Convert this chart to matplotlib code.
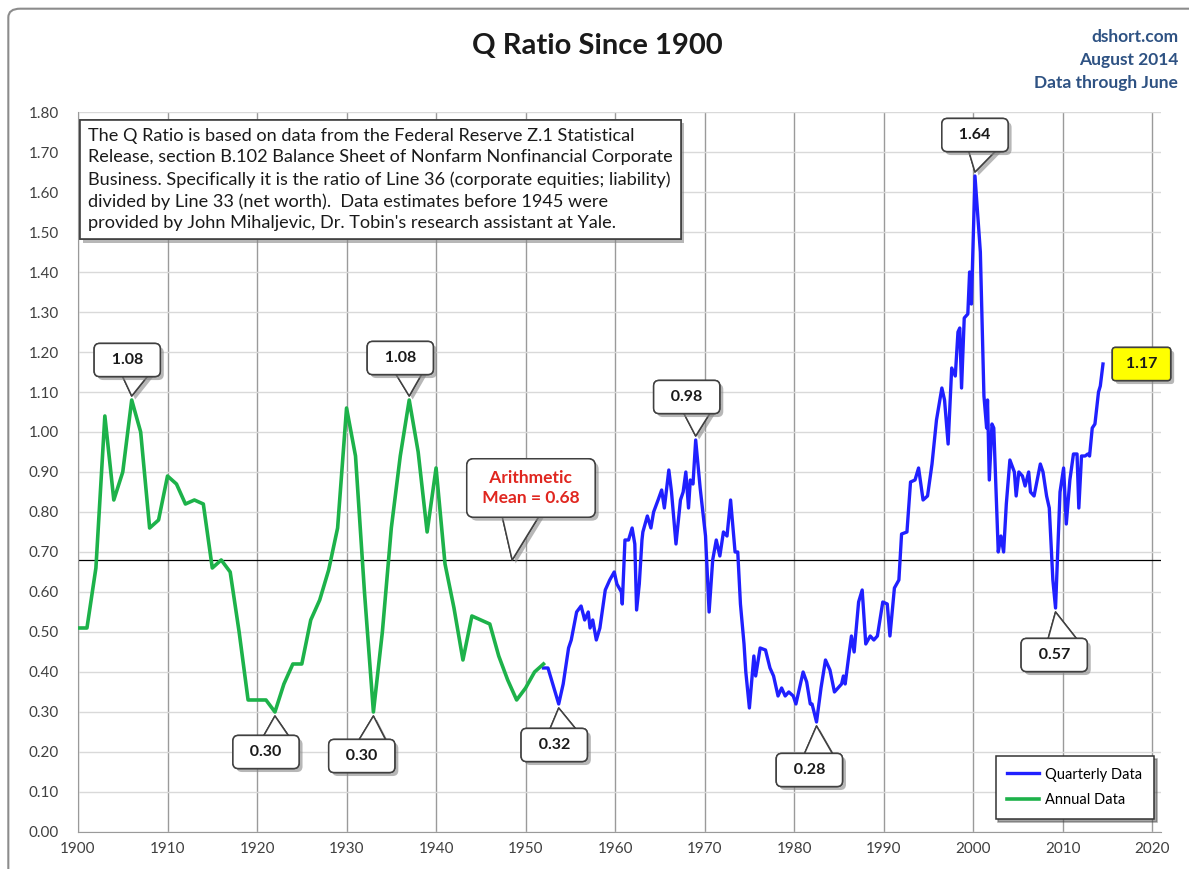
import matplotlib
matplotlib.use("Agg")
import matplotlib.pyplot as plt
import matplotlib.patheffects as pe
from matplotlib.patches import FancyBboxPatch

# Annual data (green), 1900-1952
annual_years = list(range(1900, 1953))
annual_q = [0.51, 0.51, 0.66, 1.04, 0.83, 0.90, 1.08, 1.00, 0.76, 0.78,
            0.89, 0.87, 0.82, 0.83, 0.82, 0.66, 0.68, 0.65, 0.50, 0.33,
            0.33, 0.33, 0.30, 0.37, 0.42, 0.42, 0.53, 0.58, 0.655, 0.76,
            1.06, 0.94, 0.60, 0.30, 0.50, 0.76, 0.94, 1.08, 0.95, 0.75,
            0.91, 0.67, 0.56, 0.43, 0.54, 0.53, 0.52, 0.44, 0.38, 0.33,
            0.36, 0.40, 0.42]

# Quarterly data (blue), 1952-2014
quarter_years = [
    1952.0, 1952.5, 1952.9, 1953.7, 1954.2, 1954.8, 1955.1, 1955.7, 1956.2, 1956.6,
    1957.0, 1957.2, 1957.5, 1957.9, 1958.3, 1958.9, 1959.4, 1959.9, 1960.2, 1960.7,
    1960.8, 1961.1, 1961.5, 1961.9, 1962.2, 1962.4, 1962.7, 1963.0, 1963.1, 1963.6,
    1964.0, 1964.3, 1964.8, 1965.2, 1965.5, 1966.0, 1966.3, 1966.8, 1967.3, 1967.6,
    1967.9, 1968.2, 1968.4, 1968.7, 1969.0, 1969.5, 1970.1, 1970.5, 1970.9, 1971.3,
    1971.7, 1972.1, 1972.5, 1972.9, 1973.4, 1973.7, 1974.0, 1974.4, 1974.6, 1975.0,
    1975.5, 1975.7, 1976.2, 1976.8, 1977.3, 1977.7, 1978.2, 1978.6, 1979.0, 1979.4,
    1979.9, 1980.2, 1981.0, 1981.4, 1981.8, 1982.0, 1982.5, 1983.0, 1983.5, 1984.0,
    1984.5, 1984.9, 1985.3, 1985.5, 1985.7, 1986.1, 1986.4, 1986.7, 1987.2, 1987.6,
    1988.0, 1988.5, 1988.9, 1989.3, 1989.9, 1990.4, 1990.7, 1991.2, 1991.7, 1992.0,
    1992.6, 1993.0, 1993.5, 1993.9, 1994.4, 1994.9, 1995.4, 1995.9, 1996.5, 1996.8,
    1997.2, 1997.6, 1998.0, 1998.3, 1998.5, 1998.7, 1999.0, 1999.4, 1999.6, 1999.8,
    2000.2, 2000.8, 2001.2, 2001.5, 2001.6, 2001.8, 2002.1, 2002.3, 2002.8, 2003.1,
    2003.4, 2003.7, 2004.1, 2004.6, 2004.8, 2005.1, 2005.5, 2005.8, 2006.2, 2006.4,
    2006.8, 2007.5, 2007.8, 2008.2, 2008.5, 2008.9, 2009.2, 2009.7, 2010.1, 2010.4,
    2010.8, 2011.2, 2011.6, 2011.8, 2012.1, 2012.5, 2012.8, 2013.0, 2013.3, 2013.6,
    2014.0, 2014.2, 2014.5]
quarter_q = [
    0.41, 0.41, 0.38, 0.32, 0.37, 0.46, 0.48, 0.55, 0.565, 0.53,
    0.55, 0.51, 0.53, 0.48, 0.51, 0.605, 0.63, 0.65, 0.62, 0.60,
    0.57, 0.73, 0.73, 0.76, 0.72, 0.555, 0.62, 0.73, 0.75, 0.79,
    0.76, 0.80, 0.83, 0.855, 0.81, 0.905, 0.85, 0.72, 0.83, 0.85,
    0.90, 0.81, 0.88, 0.87, 0.98, 0.86, 0.74, 0.55, 0.68, 0.73,
    0.69, 0.75, 0.74, 0.83, 0.70, 0.70, 0.57, 0.47, 0.40, 0.31,
    0.44, 0.39, 0.46, 0.455, 0.41, 0.39, 0.34, 0.36, 0.34, 0.35,
    0.34, 0.32, 0.40, 0.375, 0.32, 0.32, 0.275, 0.36, 0.43, 0.405,
    0.35, 0.36, 0.37, 0.39, 0.37, 0.44, 0.49, 0.45, 0.575, 0.605,
    0.47, 0.49, 0.48, 0.49, 0.575, 0.57, 0.49, 0.61, 0.63, 0.745,
    0.75, 0.875, 0.88, 0.91, 0.83, 0.84, 0.92, 1.03, 1.11, 1.08,
    0.97, 1.16, 1.14, 1.25, 1.26, 1.11, 1.285, 1.295, 1.40, 1.32,
    1.64, 1.45, 1.09, 1.01, 1.08, 0.88, 1.02, 1.01, 0.70, 0.74,
    0.70, 0.82, 0.93, 0.90, 0.84, 0.90, 0.89, 0.865, 0.90, 0.85,
    0.84, 0.92, 0.90, 0.84, 0.81, 0.63, 0.56, 0.85, 0.91, 0.77,
    0.88, 0.945, 0.945, 0.81, 0.94, 0.94, 0.945, 0.94, 1.01, 1.02,
    1.10, 1.115, 1.17]

mean_q = 0.68
x_ticks = list(range(1900, 2021, 10))
y_ticks = [i / 10 for i in range(0, 19)]

note = ("The Q Ratio is based on data from the Federal Reserve Z.1 Statistical\n"
        "Release, section B.102 Balance Sheet of Nonfarm Nonfinancial Corporate\n"
        "Business. Specifically it is the ratio of Line 36 (corporate equities; liability)\n"
        "divided by Line 33 (net worth).  Data estimates before 1945 were\n"
        "provided by John Mihaljevic, Dr. Tobin's research assistant at Yale.")

# callouts: text, point, box centre, where the tail leaves the box
callouts = [
    ("1.08", (1906.0, 1.09), (1905.5, 1.18), (0.68, 0.3)),
    ("0.30", (1922.0, 0.29), (1921.0, 0.20), (0.72, 0.7)),
    ("0.30", (1933.0, 0.29), (1931.7, 0.19), (0.72, 0.7)),
    ("1.08", (1937.0, 1.09), (1936.0, 1.185), (0.68, 0.3)),
    ("0.32", (1953.7, 0.31), (1953.2, 0.2175), (0.7, 0.7)),
    ("0.98", (1969.0, 0.99), (1968.0, 1.0875), (0.72, 0.3)),
    ("0.28", (1982.5, 0.265), (1981.7, 0.155), (0.7, 0.7)),
    ("1.64", (2000.2, 1.65), (2000.2, 1.7425), (0.68, 0.3)),
    ("0.57", (2009.2, 0.55), (2009.05, 0.4425), (0.7, 0.7)),
]

font = "Lato"
shadow = [pe.withSimplePatchShadow(offset=(2.5, -2.5), shadow_rgbFace="#888888", alpha=0.6), pe.Normal()]

fig = plt.figure(figsize=(11.89, 8.69), dpi=100)
ax = fig.add_axes([0.0656, 0.0426, 0.911, 0.8285])

# outer grey frame
frame = FancyBboxPatch((0.007, -0.05), 1.1, 1.04, boxstyle="round,pad=0,rounding_size=0.01",
                       transform=fig.transFigure, fc="none", ec="#8c8c8c", lw=1.5, clip_on=False)
fig.patches.append(frame)

ax.plot(quarter_years, quarter_q, color="#2020ff", lw=2.4, label="Quarterly Data", zorder=3)
ax.plot(annual_years, annual_q, color="#1db24a", lw=2.6, label="Annual Data", zorder=3)
ax.axhline(mean_q, color="black", lw=0.9, zorder=2)

ax.set_xlim(1900, 2021)
ax.set_ylim(0, 1.8)
ax.set_xticks(x_ticks)
ax.set_yticks(y_ticks)
ax.set_yticklabels([f"{v:.2f}" for v in y_ticks])
ax.grid(axis="y", color="#d9d9d9", lw=1)
ax.grid(axis="x", color="#9a9a9a", lw=1)
ax.set_axisbelow(True)
for s in ["top", "right"]:
    ax.spines[s].set_visible(False)
ax.spines["left"].set_color("#9a9a9a")
ax.spines["bottom"].set_color("#9a9a9a")
ax.tick_params(length=0, labelsize=11, labelcolor="#404040")
ax.tick_params(axis="y", pad=14)
ax.tick_params(axis="x", pad=7)
for lab in ax.get_xticklabels() + ax.get_yticklabels():
    lab.set_fontfamily(font)

fig.text(0.502, 0.947, "Q Ratio Since 1900", ha="center", va="center",
         fontsize=21, fontweight="bold", family=font, color="#1a1a1a")
for i, t in enumerate(["dshort.com", "August 2014", "Data through June"]):
    fig.text(0.991, 0.957 - i * 0.026, t, ha="right", va="center", fontsize=12.5,
             fontweight="bold", family=font, color="#2e5283")

ax.text(0.009, 0.978, note, transform=ax.transAxes, ha="left", va="top",
        fontsize=13.1, family=font, color="#1a1a1a", linespacing=1.42,
        bbox=dict(boxstyle="square,pad=0.45", fc="white", ec="#404040", lw=1.2,
                  path_effects=shadow), zorder=6)

for txt, xy, xyt, rp in callouts:
    a = ax.annotate("  " + txt + "  ", xy=xy, xytext=xyt, ha="center", va="center",
                    fontsize=11.5, fontweight="bold", family=font, color="#1a1a1a",
                    bbox=dict(boxstyle="round,pad=0.6,rounding_size=0.35", fc="white",
                              ec="#404040", lw=1.1, path_effects=shadow),
                    arrowprops=dict(arrowstyle="wedge,tail_width=2.6,shrink_factor=0.5",
                                    fc="white", ec="#404040", lw=1.1, relpos=rp,
                                    patchA=None, shrinkA=0, shrinkB=0),
                    zorder=6)
    a.arrow_patch.set_path_effects(shadow)

m = ax.annotate(" Arithmetic \n Mean = 0.68 ", xy=(1948.5, mean_q), xytext=(1950.6, 0.86),
                ha="center", va="center", fontsize=12.5, fontweight="bold", family=font,
                color="#e0261f", linespacing=1.3,
                bbox=dict(boxstyle="round,pad=0.65,rounding_size=0.4", fc="white",
                          ec="#404040", lw=1.1, path_effects=shadow),
                arrowprops=dict(arrowstyle="wedge,tail_width=3.0,shrink_factor=0.5",
                                fc="white", ec="#404040", lw=1.1, relpos=(0.42, 0.25),
                                patchA=None, shrinkA=0, shrinkB=0),
                zorder=6)
m.arrow_patch.set_path_effects(shadow)

ax.text(2018.8, 1.17, " 1.17 ", ha="center", va="center", fontsize=11.5, fontweight="bold",
        family=font, color="#1a1a1a",
        bbox=dict(boxstyle="round,pad=0.6,rounding_size=0.2", fc="#ffff00", ec="#404040",
                  lw=1.1, path_effects=shadow), zorder=6)

leg = ax.legend(loc="lower right", bbox_to_anchor=(1.0, 0.008), fancybox=False, shadow=True,
                edgecolor="#333333", framealpha=1, handlelength=2.2, handletextpad=0.4,
                borderpad=0.8, labelspacing=0.8, prop={"family": font, "size": 10.5})
leg.get_frame().set_linewidth(1.1)
leg.set_zorder(7)

fig.savefig("out.png", dpi=100)
